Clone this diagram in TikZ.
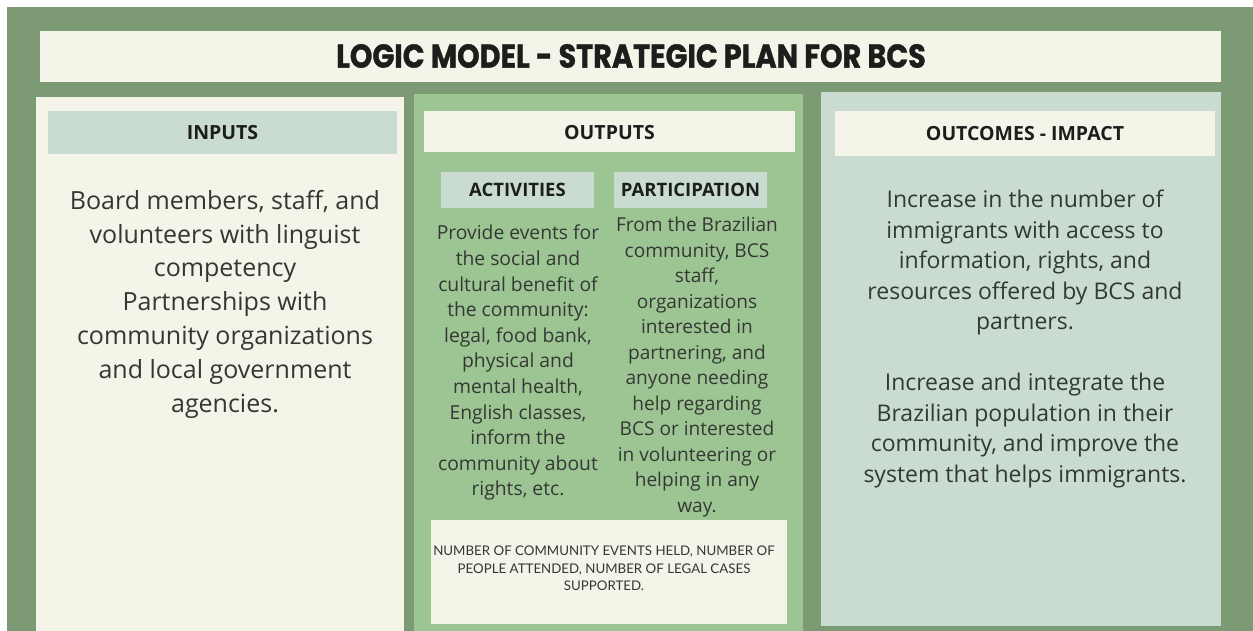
\documentclass[tikz,border=0pt]{standalone}
\usepackage{fontspec}
\setmainfont{Open Sans}
\newfontfamily\titlefont{Poppins}[BoldFeatures={FakeBold=1.2}]
\newfontfamily\notefont{Lato}
\begin{document}
\definecolor{bggreen}{HTML}{7C9B74}
\definecolor{cream}{HTML}{F4F4E9}
\definecolor{mint}{HTML}{CADCD1}
\definecolor{leaf}{HTML}{9DC594}
\definecolor{ink}{HTML}{333833}
\definecolor{headink}{HTML}{1C1E1C}
\begin{tikzpicture}[x=1pt,y=-1pt,
  headtext/.style={font=\fontsize{19.5}{22}\selectfont\bfseries, text=headink},
  subhead/.style={font=\fontsize{18.5}{21}\selectfont\bfseries, text=headink},
  bodytext/.style={align=center, text=ink, inner sep=0pt, anchor=north}]
  \useasboundingbox (0,0) rectangle (1253,631);
  % page background
  \fill[white] (0,0) rectangle (1253,631);
  \fill[bggreen] (7,7) rectangle (1253,631);
  % title bar
  \fill[cream] (40,31) rectangle (1221,82);
  \node[font=\titlefont\fontsize{33}{36}\selectfont\bfseries, text=headink] (title) at (631,56)
    {\scalebox{0.87}[1]{LOGIC MODEL - STRATEGIC PLAN FOR BCS}};

  % inputs column
  \fill[cream] (36,97) rectangle (404,631);
  \fill[mint] (48,111) rectangle (397,154);
  \node[headtext] (inputs) at (222.5,133) {INPUTS};
  \node[bodytext, font=\fontsize{25}{33.8}\selectfont] (inputsbody) at (225,190)
    {Board members, staff, and\\volunteers with linguist\\competency\\Partnerships with\\community organizations\\and local government\\agencies.};

  % outputs column
  \fill[leaf] (414,94) rectangle (803,631);
  \fill[cream] (424,111) rectangle (795,152);
  \node[headtext] (outputs) at (609.5,133) {OUTPUTS};
  \fill[mint] (441,172) rectangle (594,208);
  \node[subhead] (activities) at (517.5,190) {ACTIVITIES};
  \fill[mint] (614,172) rectangle (767,208);
  \node[subhead] (participation) at (690.5,190) {PARTICIPATION};
  \node[bodytext, font=\fontsize{19.3}{25.6}\selectfont] (activitiesbody) at (518,225)
    {Provide events for\\the social and\\cultural benefit of\\the community:\\legal, food bank,\\physical and\\mental health,\\English classes,\\inform the\\community about\\rights, etc.};
  \node[bodytext, font=\fontsize{19.1}{25.5}\selectfont] (participationbody) at (697,217)
    {From the Brazilian\\community, BCS\\staff,\\organizations\\interested in\\partnering, and\\anyone needing\\help regarding\\BCS or interested\\in volunteering or\\helping in any\\way.};
  \fill[cream] (431,520) rectangle (787,624);
  \node[bodytext, font=\notefont\fontsize{13.3}{17.5}\selectfont] (measures) at (604,546)
    {NUMBER OF COMMUNITY EVENTS HELD, NUMBER OF\\PEOPLE ATTENDED, NUMBER OF LEGAL CASES\\SUPPORTED.};

  % outcomes column
  \fill[mint] (821,92) rectangle (1221,626);
  \fill[cream] (835,111) rectangle (1215,156);
  \node[headtext] (outcomes) at (1025,133.5) {OUTCOMES - IMPACT};
  \node[bodytext, font=\fontsize{23}{30.5}\selectfont] (outcomesbody) at (1025,190)
    {Increase in the number of\\immigrants with access to\\information, rights, and\\resources offered by BCS and\\partners.\\[30.5pt]Increase and integrate the\\Brazilian population in their\\community, and improve the\\system that helps immigrants.};
\end{tikzpicture}
\end{document}
